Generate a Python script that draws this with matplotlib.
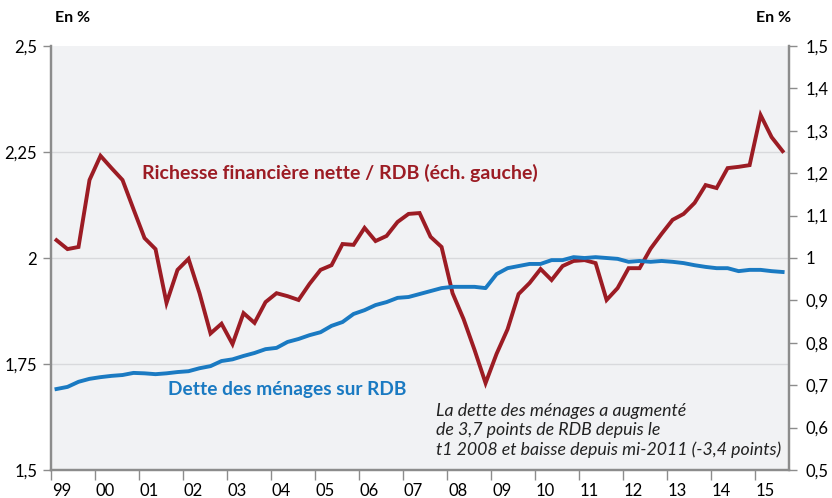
import numpy as np
import matplotlib
matplotlib.use("Agg")
import matplotlib.pyplot as plt

plt.rcParams['font.family'] = ['Lato', 'DejaVu Sans']

# quarterly data, 1999 T1 -> 2015 T3
richesse = [2.042, 2.021, 2.026, 2.184, 2.241, 2.212, 2.184, 2.115, 2.047, 2.021,
            1.894, 1.972, 1.998, 1.917, 1.822, 1.845, 1.797, 1.870, 1.847, 1.896,
            1.917, 1.910, 1.901, 1.939, 1.972, 1.983, 2.033, 2.031, 2.071, 2.040,
            2.052, 2.085, 2.104, 2.106, 2.050, 2.026, 1.917, 1.856, 1.783, 1.705,
            1.774, 1.832, 1.915, 1.941, 1.974, 1.948, 1.981, 1.993, 1.995, 1.988,
            1.901, 1.929, 1.976, 1.976, 2.022, 2.057, 2.090, 2.104, 2.130, 2.172,
            2.165, 2.212, 2.215, 2.219, 2.337, 2.285, 2.252]
dette = [0.691, 0.696, 0.708, 0.715, 0.719, 0.722, 0.724, 0.729, 0.728, 0.726,
         0.728, 0.731, 0.733, 0.740, 0.745, 0.757, 0.761, 0.769, 0.776, 0.785,
         0.788, 0.802, 0.809, 0.818, 0.825, 0.840, 0.849, 0.868, 0.877, 0.889,
         0.896, 0.906, 0.908, 0.915, 0.922, 0.929, 0.932, 0.932, 0.932, 0.929,
         0.962, 0.976, 0.981, 0.986, 0.986, 0.995, 0.995, 1.002, 1.000, 1.002,
         1.000, 0.998, 0.991, 0.993, 0.991, 0.993, 0.991, 0.988, 0.983, 0.979,
         0.976, 0.976, 0.969, 0.972, 0.972, 0.969, 0.967]
annees = ['99', '00', '01', '02', '03', '04', '05', '06', '07', '08',
          '09', '10', '11', '12', '13', '14', '15']

t = 1999.125 + 0.25 * np.arange(len(richesse))
rouge = '#9c1c24'
bleu = '#1a7ac2'
gris = '#8c8c8c'

fig = plt.figure(figsize=(8.32, 4.98), dpi=100)
ax = fig.add_axes([51/832, 1-470/498, (789-51)/832, (470-46)/498])
ax2 = ax.twinx()

ax.set_facecolor('#f1f2f4')
ax2.patch.set_visible(False)

ax.plot(t, richesse, color=rouge, lw=2.8, solid_joinstyle='miter', zorder=3)
ax2.plot(t, dette, color=bleu, lw=2.8, zorder=3)

ax.set_xlim(1999, 2015.77)
ax.set_ylim(1.5, 2.5)
ax2.set_ylim(0.5, 1.5)

ax.set_yticks([1.5, 1.75, 2, 2.25, 2.5])
ax.set_yticklabels(['1,5', '1,75', '2', '2,25', '2,5'])
ax2.set_yticks(np.arange(0.5, 1.51, 0.1))
ax2.set_yticklabels(['0,5', '0,6', '0,7', '0,8', '0,9', '1', '1,1', '1,2', '1,3', '1,4', '1,5'])
for a in (ax, ax2):
    a.tick_params(axis='y', length=6, width=1, color=gris, labelsize=12, pad=6)
ax.tick_params(axis='y', pad=4)

yrs = np.arange(1999, 2016)
ax.set_xticks(yrs)
ax.set_xticklabels([])
ax.set_xticks(yrs + 0.24, minor=True)
ax.set_xticklabels(annees, minor=True)
ax.tick_params(axis='x', which='major', length=7, width=1, color=gris)
ax.tick_params(axis='x', which='minor', length=0, labelsize=12, pad=9)

for v in [1.75, 2, 2.25]:
    ax.axhline(v, color='#d8d9dc', lw=1, zorder=1)

for a in (ax, ax2):
    a.spines['top'].set_visible(False)
    for s in ['left', 'right', 'bottom']:
        a.spines[s].set_color(gris)
        a.spines[s].set_linewidth(1.6)

fig.text(55/832, 1-18/498, 'En %', fontsize=11.5, fontweight='bold', va='center', ha='left')
fig.text(791/832, 1-18/498, 'En %', fontsize=11.5, fontweight='bold', va='center', ha='right')

ax.text(2001.07, 2.2, 'Richesse financière nette / RDB (éch. gauche)', color=rouge,
        fontsize=14, fontweight='bold', va='center', ha='left')
ax.text(2001.66, 1.689, 'Dette des ménages sur RDB', color=bleu,
        fontsize=13.8, fontweight='bold', va='center', ha='left')
ax.text(2007.75, 1.658, 'La dette des ménages a augmenté\nde 3,7 points de RDB depuis le\n'
        't1 2008 et baisse depuis mi-2011 (-3,4 points)', fontsize=12.8, style='italic',
        va='top', ha='left', linespacing=1.25, color='#222222')

fig.savefig('out.png', dpi=100)
